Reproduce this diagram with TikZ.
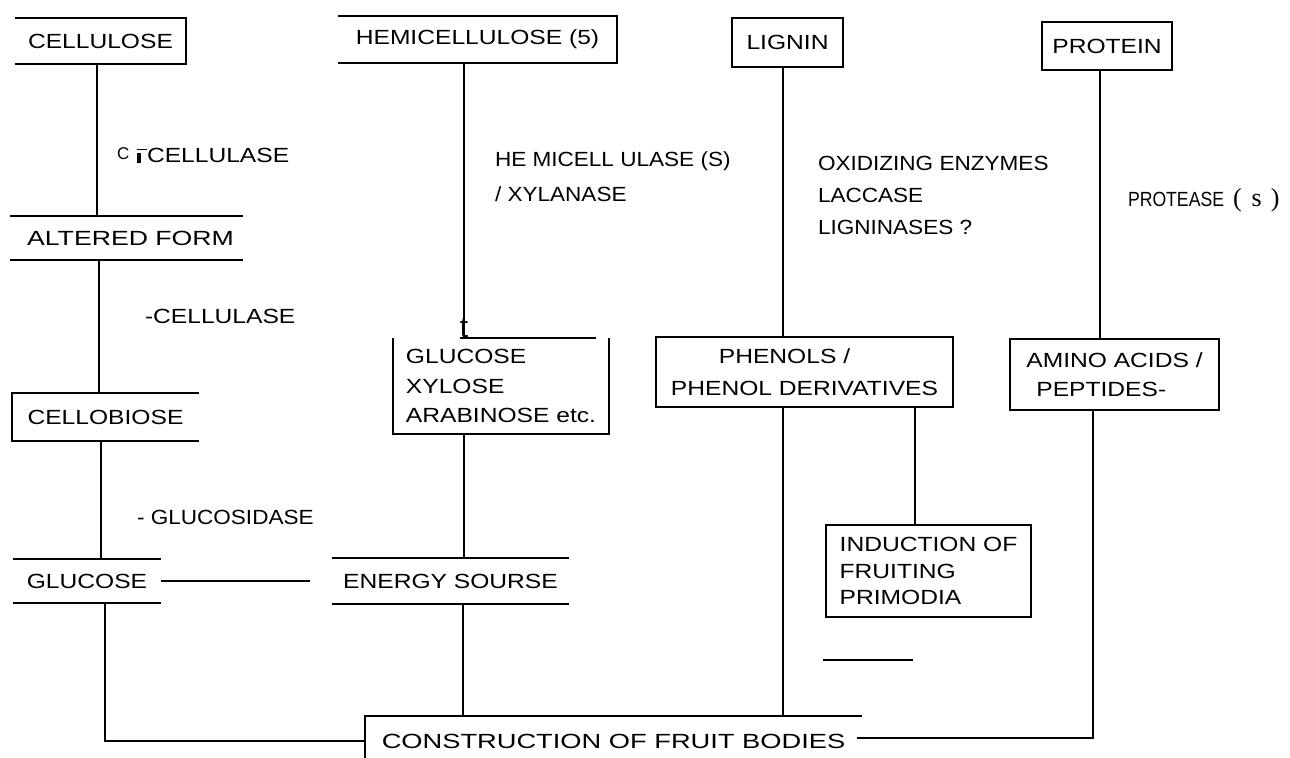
\documentclass[tikz,border=0pt]{standalone}
\usepackage{fontspec}
\setmainfont{Liberation Sans}[FakeStretch=1.2]
\newfontfamily\fwide{Liberation Sans}[FakeStretch=1.3]
\newfontfamily\fwider{Liberation Sans}[FakeStretch=1.33]
\newfontfamily\fmid{Liberation Sans}[FakeStretch=1.1]
\newfontfamily\fnorm{Liberation Sans}
\newfontfamily\fnarrow{Liberation Sans}[FakeStretch=0.86]
\newfontfamily\serifpar{Liberation Serif}
\usetikzlibrary{calc}
\begin{document}
\begin{tikzpicture}[x=0.5pt,y=-0.5pt,line width=0.95pt,
  every node/.style={font=\fontsize{10.25}{13}\selectfont, inner sep=0pt, outer sep=0pt},
  bx/.style n args={2}{minimum width=#1, minimum height=#2},
  lbl/.style={anchor=base west}]
\useasboundingbox (0,0) rectangle (1290,758);

% ---------- boxes ----------
\node[bx={85.5pt}{23pt}] (cellulose) at (100.5,41) {CELLULOSE};
\node[bx={116.5pt}{22pt}, font=\fwide\fontsize{10.25}{13}\selectfont] (altered) at (126.5,238) {\hspace*{4pt}ALTERED FORM};
\node[bx={93.5pt}{24pt}] (cellobiose) at (105.5,417) {CELLOBIOSE};
\node[bx={74pt}{22pt}] (glucose) at (87,581) {GLUCOSE};
\node[bx={139.5pt}{23.5pt}] (hemi) at (477.5,39.5) {HEMICELLULOSE (5)};
\node[bx={108pt}{48pt}, align=left] (sugars) at (501,386) {GLUCOSE\\[1.75pt]XYLOSE\\[1.75pt]ARABINOSE etc.};
\node[bx={118.5pt}{23pt}] (energy) at (450.5,581) {ENERGY SOURSE};
\node[bx={55.5pt}{24.5pt}] (lignin) at (787.5,42.5) {LIGNIN};
\node[bx={148.5pt}{35pt}, align=center] (phenols) at (804.5,372) {PHENOLS /\hspace*{20pt}\\[3pt]PHENOL DERIVATIVES};
\node[bx={102.5pt}{46pt}, align=left] (induction) at (928.5,571) {INDUCTION OF\\[0.25pt]FRUITING\\[0.25pt]PRIMODIA};
\node[bx={65pt}{24pt}] (protein) at (1107,46) {PROTEIN};
\node[bx={104.5pt}{35.5pt}, align=left] (amino) at (1114.5,374.5) {AMINO ACIDS /\\[1.5pt]\hspace*{5pt}PEPTIDES-};
\node[bx={248.5pt}{25pt}, font=\fwider\fontsize{10.25}{13}\selectfont] (construction) at (613.5,741) {CONSTRUCTION OF FRUIT BODIES};

% ---------- box outlines ----------
\draw (cellulose.north west) -- (cellulose.north east) -- (cellulose.south east) -- (cellulose.south west);
\draw (altered.north west) -- (altered.north east) (altered.south west) -- (altered.south east);
\draw (cellobiose.north east) -- (cellobiose.north west) -- (cellobiose.south west) -- (cellobiose.south east);
\draw (glucose.north west) -- (glucose.north east) (glucose.south west) -- (glucose.south east);
\draw (hemi.north west) -- (hemi.north east) -- (hemi.south east) -- (hemi.south west);
\draw ($(sugars.north west)!0.31!(sugars.north east)$) -- ($(sugars.north west)!0.94!(sugars.north east)$);
\draw (sugars.north west) -- (sugars.south west) -- (sugars.south east) -- (sugars.north east);
\draw (energy.north west) -- (energy.north east) (energy.south west) -- (energy.south east);
\draw (lignin.north west) rectangle (lignin.south east);
\draw (phenols.north west) rectangle (phenols.south east);
\draw (induction.north west) rectangle (induction.south east);
\draw (protein.north west) rectangle (protein.south east);
\draw (amino.north west) rectangle (amino.south east);
\draw (construction.north east) -- (construction.north west) -- (construction.south west);

% ---------- junction points ----------
\path ($(cellulose.south west)!0.4795!(cellulose.south east)$) coordinate (j1);
\path ($(altered.south west)!0.382!(altered.south east)$) coordinate (j2);
\path ($(cellobiose.south west)!0.476!(cellobiose.south east)$) coordinate (j3);
\path ($(glucose.south west)!0.622!(glucose.south east)$) coordinate (j4);
\path ($(hemi.south west)!0.4516!(hemi.south east)$) coordinate (j5);
\path ($(sugars.south west)!0.329!(sugars.south east)$) coordinate (j6);
\path ($(energy.south west)!0.553!(energy.south east)$) coordinate (j7);
\path ($(lignin.south west)!0.459!(lignin.south east)$) coordinate (j8);
\path ($(phenols.south west)!0.4276!(phenols.south east)$) coordinate (j9);
\path ($(phenols.south west)!0.872!(phenols.south east)$) coordinate (j10);
\path ($(protein.south west)!0.446!(protein.south east)$) coordinate (j11);
\path ($(amino.south west)!0.397!(amino.south east)$) coordinate (j12);
\coordinate (gfree) at (310,581);
\coordinate (cfree) at (857,738);

% ---------- connectors ----------
\draw (j1) -- (j1 |- altered.north);
\draw (j2) -- (j2 |- cellobiose.north);
\draw (j3) -- (j3 |- glucose.north);
\draw (j4) |- (construction.west);
\draw (glucose.east) -- (gfree);
\draw (j5) -- (j5 |- sugars.north);
\draw (j6) -- (j6 |- energy.north);
\draw (j7) -- (j7 |- construction.north);
\draw (j8) -- (j8 |- phenols.north);
\draw (j9) -- (j9 |- construction.north);
\draw (j10) -- (j10 |- induction.north);
\draw (j11) -- (j11 |- amino.north);
\draw (j12) |- (cfree);

% stray rule
\draw (823,660) -- (913,660);

% ---------- enzyme labels ----------
\node[lbl, font=\fnorm\fontsize{8.5}{9}\selectfont] (c1c) at (117,159.5) {C};
\fill (137,153) rectangle (141,163);
\draw[line width=0.6pt] (137,149.5) -- (147,149.5);
\node[lbl] (c1lbl) at (147,163) {CELLULASE};
\node[lbl, font=\fmid\fontsize{10.25}{13}\selectfont] (hemlbl) at (495,167) {HE MICELL ULASE (S)};
\node[lbl, font=\fmid\fontsize{10.25}{13}\selectfont] (xyl) at (495,202) {/ XYLANASE};
\node[lbl, font=\fmid\fontsize{10.25}{13}\selectfont] (ox) at (818,171) {OXIDIZING ENZYMES};
\node[lbl, font=\fmid\fontsize{10.25}{13}\selectfont] (lac) at (818,203) {LACCASE};
\node[lbl, font=\fmid\fontsize{10.25}{13}\selectfont] (lig) at (818,235) {LIGNINASES ?};
\node[lbl, font=\fnarrow\fontsize{10.25}{13}\selectfont] (prot) at (1128,207) {PROTEASE\hspace{4.5pt}{\serifpar\fontsize{13}{14}\selectfont(\hspace{5pt}s\hspace{4.5pt})}};
\node[lbl] (cel2) at (145,324) {-CELLULASE};
\node[lbl, font=\fmid\fontsize{10.25}{13}\selectfont] (gluc2) at (137,525) {- GLUCOSIDASE};
\node[anchor=base, font=\fnorm\fontsize{15}{16}\selectfont] (tmark) at (464,338) {t};
\end{tikzpicture}
\end{document}
